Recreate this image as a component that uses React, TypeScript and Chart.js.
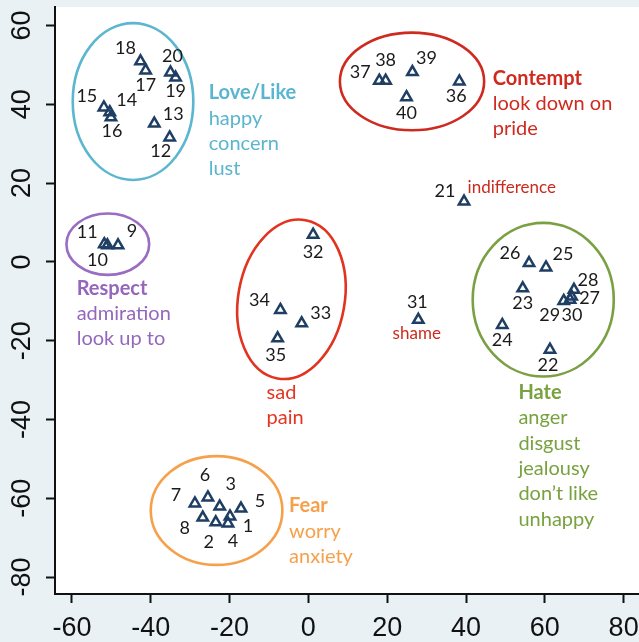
import React, { useEffect, useRef } from "react";
import { Chart, registerables } from "chart.js";

Chart.register(...registerables);

// ---- data ----
const pointIds = [
  1, 2, 3, 4, 5, 6, 7, 8, 9, 10, 11, 12, 13, 14, 15, 16, 17, 18, 19, 20,
  21, 22, 23, 24, 25, 26, 27, 28, 29, 30, 31, 32, 33, 34, 35, 36, 37, 38, 39, 40,
];
const xValues = [
  -19.9, -23.5, -22.5, -20.4, -17.1, -25.5, -28.8, -26.8, -48.3, -51.0,
  -51.8, -35.2, -39.1, -50.4, -51.9, -50.1, -41.3, -42.6, -33.7, -35.0,
  39.5, 61.3, 54.4, 49.2, 60.3, 56.0, 66.8, 67.4, 64.8, 66.4,
  27.9, 1.2, -1.7, -7.1, -7.8, 38.3, 18.0, 19.6, 26.4, 24.9,
];
const yValues = [
  -64.6, -66.1, -62.1, -66.4, -62.6, -59.8, -61.3, -64.9, 4.2, 4.2,
  4.5, 31.6, 35.1, 38.0, 39.2, 36.7, 48.6, 50.9, 46.8, 48.1,
  15.3, -22.3, -6.7, -16.0, -1.4, -0.3, -8.8, -7.1, -9.9, -9.6,
  -14.7, 6.9, -15.6, -12.2, -19.4, 45.8, 46.0, 46.0, 48.2, 41.8,
];
const xTicks = [-60, -40, -20, 0, 20, 40, 60, 80];
const yTicks = [-80, -60, -40, -20, 0, 20, 40, 60];

// label placement (pixel offsets from each marker)
const labelOffsets: [number, number][] = [
  [18, 10], [-7, 20], [11, -22], [5, 18], [19, -7], [-3, -22], [-19, -8], [-18, 11],
  [14, -14], [-10, 15], [-17, -12], [-9, 14], [19, -9], [17, -12], [-17, -11], [1, 14],
  [0, 15], [-15, -13], [0, 14], [2, -16], [-19, -10], [-2, 15], [0, 15], [0, 15],
  [17, -13], [-19, -10], [18, 2], [14, -10], [-14, 14], [2, 15], [-1, -18], [0, 17],
  [19, -10], [-21, -10], [-2, 17], [-3, 15], [-19, -8], [0, -20], [14, -14], [0, 16],
];

// cluster ellipses (data units)
const clusterEllipses = [
  { cx: -44.5, cy: 40.7, rx: 15.3, ry: 19.9, rot: 0, color: "#5cb6cf" },
  { cx: -50.9, cy: 4.5, rx: 10.5, ry: 7.8, rot: 0, color: "#9a6cc2" },
  { cx: 26.3, cy: 45.8, rx: 18.3, ry: 12.4, rot: 0, color: "#cf2a20" },
  { cx: -4.3, cy: -9.5, rx: 13.5, ry: 20.4, rot: 10, color: "#e2331f" },
  { cx: 59.6, cy: -9.6, rx: 17.9, ry: 19.5, rot: 0, color: "#7aa043" },
  { cx: -23.3, cy: -63.1, rx: 16.7, ry: 13.8, rot: 0, color: "#f7a04b" },
];

// cluster captions
const captionGroups = [
  { x: -25.3, y: 42.9, color: "#5ab5ce", bold: true, lines: ["Love/Like", "happy", "concern", "lust"] },
  { x: 46.8, y: 46.6, color: "#cf2a1f", bold: true, lines: ["Contempt", "look down on", "pride"] },
  { x: -58.8, y: -6.7, color: "#9467bd", bold: true, lines: ["Respect", "admiration", "look up to"] },
  { x: -10.6, y: -33.2, color: "#e5341f", bold: false, lines: ["sad", "pain"] },
  { x: 53.3, y: -33.2, color: "#78a13f", bold: true, lines: ["Hate", "anger", "disgust", "jealousy", "don\u2019t like", "unhappy"] },
  { x: -4.9, y: -61.9, color: "#f6a04c", bold: true, lines: ["Fear", "worry", "anxiety"] },
];
const smallNotes = [
  { x: 40.4, y: 18.9, text: "indifference", align: "left" },
  { x: 27.5, y: -18.3, text: "shame", align: "center" },
];

const BG = "#e9f1f4";
const TEXT_FONT = "Lato, 'Open Sans', sans-serif";

const bgPlugin = {
  id: "bgPlugin",
  beforeDraw(chart: any) {
    const { ctx, chartArea: a, width, height } = chart;
    ctx.save();
    ctx.fillStyle = BG;
    ctx.fillRect(0, 0, width, height);
    ctx.fillStyle = "#ffffff";
    ctx.fillRect(a.left, a.top, width - a.left, a.bottom - a.top);
    ctx.restore();
  },
};

const ellipsePlugin = {
  id: "ellipsePlugin",
  beforeDatasetsDraw(chart: any) {
    const { ctx } = chart;
    const xs = chart.scales.x;
    const ys = chart.scales.y;
    ctx.save();
    ctx.lineWidth = 2.6;
    for (const e of clusterEllipses) {
      const cx = xs.getPixelForValue(e.cx);
      const cy = ys.getPixelForValue(e.cy);
      const rx = Math.abs(xs.getPixelForValue(e.cx + e.rx) - cx);
      const ry = Math.abs(ys.getPixelForValue(e.cy + e.ry) - cy);
      ctx.strokeStyle = e.color;
      ctx.beginPath();
      ctx.ellipse(cx, cy, rx, ry, (e.rot * Math.PI) / 180, 0, Math.PI * 2);
      ctx.stroke();
    }
    ctx.restore();
  },
};

const labelPlugin = {
  id: "labelPlugin",
  afterDatasetsDraw(chart: any) {
    const { ctx } = chart;
    const xs = chart.scales.x;
    const ys = chart.scales.y;
    const meta = chart.getDatasetMeta(0);
    ctx.save();
    ctx.fillStyle = "#1a1a1a";
    ctx.font = `18px ${TEXT_FONT}`;
    ctx.textAlign = "center";
    ctx.textBaseline = "middle";
    meta.data.forEach((pt: any, i: number) => {
      const [dx, dy] = labelOffsets[i];
      ctx.fillText(String(pointIds[i]), pt.x + dx, pt.y + dy);
    });

    const lineGap = 25.3;
    ctx.textAlign = "left";
    for (const g of captionGroups) {
      const px = xs.getPixelForValue(g.x);
      const py = ys.getPixelForValue(g.y);
      ctx.fillStyle = g.color;
      g.lines.forEach((t, k) => {
        ctx.font = `${k === 0 && g.bold ? "bold " : ""}20px ${TEXT_FONT}`;
        ctx.fillText(t, px, py + k * lineGap);
      });
    }

    ctx.fillStyle = "#cc2a1e";
    ctx.font = `17px ${TEXT_FONT}`;
    for (const n of smallNotes) {
      ctx.textAlign = n.align as CanvasTextAlign;
      ctx.fillText(n.text, xs.getPixelForValue(n.x), ys.getPixelForValue(n.y));
    }
    ctx.restore();
  },
};

export default function App() {
  const canvasRef = useRef<HTMLCanvasElement | null>(null);

  useEffect(() => {
    if (!canvasRef.current) return;
    const tickFont = { family: "'Liberation Sans', Arial, sans-serif", size: 27 };
    const chart = new Chart(canvasRef.current, {
      type: "scatter",
      data: {
        datasets: [
          {
            data: xValues.map((x, i) => ({ x, y: yValues[i] })),
            pointStyle: "triangle",
            pointRadius: 6,
            pointBorderWidth: 2.5,
            borderColor: "#1f3e64",
            backgroundColor: "rgba(0,0,0,0)",
          },
        ],
      },
      options: {
        animation: false,
        responsive: false,
        events: [],
        layout: { autoPadding: false, padding: { top: 7, left: 0, right: 0, bottom: 0 } },
        plugins: { legend: { display: false }, tooltip: { enabled: false } },
        scales: {
          x: {
            type: "linear",
            min: -64.3,
            max: 83.9,
            afterBuildTicks: (s: any) => {
              s.ticks = xTicks.map((v) => ({ value: v }));
            },
            afterFit: (s: any) => {
              s.height = 48;
              s.paddingLeft = 0;
              s.paddingRight = 0;
            },
            grid: {
              display: true,
              drawOnChartArea: false,
              drawTicks: true,
              tickLength: 9,
              tickWidth: 2,
              tickColor: "#111",
            },
            border: { display: true, color: "#111", width: 2 },
            ticks: {
              color: "#111",
              font: tickFont,
              padding: 9,
              minRotation: 0,
              maxRotation: 0,
              autoSkip: false,
              callback: (v: any) => String(v),
            },
          },
          y: {
            type: "linear",
            min: -84.3,
            max: 64.7,
            afterBuildTicks: (s: any) => {
              s.ticks = yTicks.map((v) => ({ value: v }));
            },
            afterFit: (s: any) => {
              s.width = 55;
              s.paddingTop = 0;
              s.paddingBottom = 0;
            },
            grid: {
              display: true,
              drawOnChartArea: false,
              drawTicks: true,
              tickLength: 9,
              tickWidth: 2,
              tickColor: "#111",
            },
            border: { display: true, color: "#111", width: 2 },
            ticks: {
              color: "#111",
              font: tickFont,
              padding: 4,
              minRotation: 90,
              maxRotation: 90,
              crossAlign: "center",
              autoSkip: false,
              callback: (v: any) => String(v),
            },
          },
        },
      },
      plugins: [bgPlugin, ellipsePlugin, labelPlugin],
    } as any);
    return () => chart.destroy();
  }, []);

  return (
    <div style={{ position: "fixed", left: 0, top: 0, width: 639, height: 642, background: BG }}>
      <canvas ref={canvasRef} width={639} height={642} style={{ display: "block" }} />
    </div>
  );
}
